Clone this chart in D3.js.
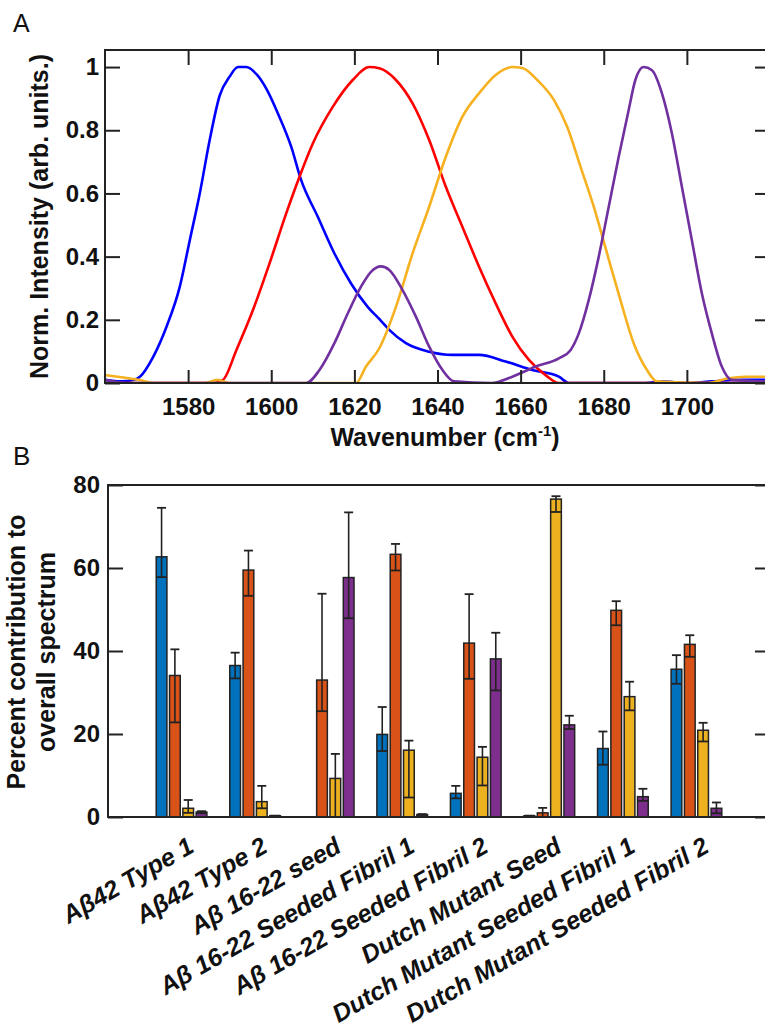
<!DOCTYPE html>
<html>
<head>
<meta charset="utf-8">
<script src="https://cdn.jsdelivr.net/npm/d3@7"></script>
<style>
  html, body { margin: 0; padding: 0; background: #fff; }
  svg { display: block; font-family: "Liberation Sans", Arial, sans-serif; }
</style>
</head>
<body>
<svg id="chart" width="765" height="1028"></svg>
<script>
// ---------------- Panel A data: [wavenumber, normalized intensity] ----------------
const blueCurve = [[1560,0.01],[1564,0.005],[1567,0.01],[1568.4,0.02],[1571.6,0.083],[1574.8,0.178],[1578,0.305],[1580.4,0.452],[1582.8,0.60],[1585.2,0.77],[1587.6,0.91],[1590,0.97],[1592,1.0],[1594,1.0],[1596.6,0.975],[1599,0.927],[1601.6,0.853],[1604.8,0.748],[1607.2,0.642],[1611.2,0.526],[1615.2,0.41],[1619.2,0.315],[1623.2,0.241],[1626.4,0.197],[1628.4,0.168],[1632.4,0.126],[1638,0.099],[1643.6,0.089],[1650,0.089],[1656.4,0.068],[1662.8,0.041],[1669.2,0.02],[1671.6,0],[1690,0],[1694,0.005],[1700,0],[1706,0.005],[1712,0.01],[1720,0.01]];
const redCurve = [[1560,0],[1586,0],[1588.4,0.01],[1591.6,0.104],[1595.6,0.231],[1599.6,0.379],[1603.6,0.537],[1606.8,0.653],[1610,0.758],[1614.8,0.874],[1619.6,0.959],[1623.6,1.0],[1626,0.996],[1630,0.959],[1634,0.885],[1638,0.769],[1642,0.621],[1646,0.494],[1650,0.368],[1654,0.252],[1658,0.147],[1662,0.073],[1666,0.025],[1669.2,0],[1720,0]];
const yellowCurve = [[1560,0.025],[1564,0.018],[1568,0.01],[1572,0],[1584,0],[1587,0.01],[1590,0],[1620.4,0],[1622.8,0.052],[1626,0.11],[1630,0.241],[1634,0.41],[1638,0.558],[1642,0.716],[1646,0.843],[1650,0.917],[1654,0.975],[1658,1.0],[1660.4,0.997],[1664,0.959],[1668,0.896],[1671.2,0.811],[1674.4,0.685],[1677.6,0.558],[1680.8,0.41],[1684,0.263],[1687.2,0.126],[1690.4,0.041],[1692.8,0.005],[1705,0],[1710,0.015],[1714,0.02],[1720,0.02]];
const purpleCurve = [[1560,0.01],[1565,0],[1608.4,0],[1611.6,0.041],[1615.2,0.126],[1618.4,0.22],[1621.6,0.305],[1624,0.352],[1626.4,0.369],[1628.4,0.358],[1631.6,0.294],[1634.8,0.21],[1638,0.115],[1641.2,0.041],[1644,0.005],[1653,0],[1658,0.02],[1663.6,0.052],[1669.2,0.078],[1672,0.104],[1674,0.157],[1676.4,0.263],[1678.8,0.4],[1681.2,0.558],[1683.6,0.716],[1686,0.864],[1687.6,0.959],[1689.6,1.0],[1691.6,0.99],[1694,0.917],[1696.4,0.79],[1698.8,0.621],[1701.2,0.452],[1703.6,0.284],[1706,0.157],[1708.4,0.052],[1710.8,0.01],[1720,0.005]];
const xTicksA = [1580,1600,1620,1640,1660,1680,1700];
const yTicksA = [0,0.2,0.4,0.6,0.8,1];

// ---------------- Panel B data ----------------
const categories = ["Aβ42 Type 1","Aβ42 Type 2","Aβ 16-22 seed","Aβ 16-22 Seeded Fibril 1","Aβ 16-22 Seeded Fibril 2","Dutch Mutant Seed","Dutch Mutant Seeded Fibril 1","Dutch Mutant Seeded Fibril 2"];
const seriesNames = ["blue","orange","yellow","purple"];
const blueVals   = [62.7, 36.5, 0,    19.9, 5.7,  0.3,  16.5, 35.6];
const blueHi     = [74.5, 39.6, 0,    26.5, 7.5,  0.3,  20.6, 39.0];
const blueLo     = [57.8, 33.4, 0,    15.9, 4.5,  0.3,  12.6, 32.1];
const orangeVals = [34.1, 59.5, 33.0, 63.3, 41.9, 1.0,  49.8, 41.6];
const orangeHi   = [40.4, 64.2, 53.8, 65.8, 53.7, 2.2,  52.0, 43.8];
const orangeLo   = [22.8, 53.3, 25.5, 59.4, 33.3, 0,    46.2, 38.6];
const yellowVals = [2.1,  3.7,  9.3,  16.1, 14.4, 76.6, 29.0, 20.9];
const yellowHi   = [4.1,  7.5,  15.2, 18.4, 16.9, 77.3, 32.6, 22.7];
const yellowLo   = [1.0,  2.1,  0,    4.7,  7.6,  73.5, 25.7, 18.2];
const purpleVals = [1.2,  0.3,  57.7, 0.6,  38.1, 22.2, 4.9,  2.1];
const purpleHi   = [1.4,  0.3,  73.4, 0.7,  44.4, 24.4, 6.8,  3.5];
const purpleLo   = [0.9,  0.3,  47.9, 0.5,  30.5, 21.2, 3.9,  0.9];
const yTicksB = [0,20,40,60,80];

// ---------------- drawing ----------------
const svg = d3.select("#chart");
const ink = "#222";
const lineColors = {blue:"#0000ff", red:"#ff0000", yellow:"#f5b120", purple:"#7030a0"};
const barColors = {blue:"#0072bd", orange:"#d95319", yellow:"#edb120", purple:"#7e2f8e"};

function styleAxis(g, fs) {
  g.select(".domain").remove();
  g.selectAll(".tick line").attr("stroke", ink).attr("stroke-width", 2);
  g.selectAll(".tick text").attr("fill", "#111").attr("font-size", fs).attr("font-weight", "bold")
    .attr("font-family", '"Liberation Sans", Arial, sans-serif');
}

// ---- Panel A ----
const A = {l:105, r:770, t:50, b:383};
const xA = d3.scaleLinear().domain([1560,1720]).range([A.l, A.r]);
const yA = d3.scaleLinear().domain([0,1.054]).range([A.b, A.t]);

svg.append("text").attr("x", 13).attr("y", 32).attr("font-size", 25).attr("fill", "#111").text("A");

svg.append("defs").append("clipPath").attr("id","clipA")
  .append("rect").attr("x", A.l).attr("y", A.t-10).attr("width", A.r-A.l).attr("height", A.b-A.t+10);

const line = d3.line().x(d => xA(d[0])).y(d => yA(d[1])).curve(d3.curveMonotoneX);
const gLines = svg.append("g").attr("clip-path","url(#clipA)");
[[blueCurve,"blue"],[redCurve,"red"],[yellowCurve,"yellow"],[purpleCurve,"purple"]].forEach(([data,c]) => {
  gLines.append("path").datum(data).attr("d", line).attr("fill","none")
    .attr("stroke", lineColors[c]).attr("stroke-width", 2.6).attr("stroke-linejoin","round");
});

svg.append("g").attr("transform", `translate(0,${A.b})`)
  .call(d3.axisBottom(xA).tickValues(xTicksA).tickSize(-13).tickPadding(15).tickFormat(d3.format("d")))
  .call(g => styleAxis(g, 24));
svg.append("g").attr("transform", `translate(0,${A.t})`)
  .call(d3.axisTop(xA).tickValues(xTicksA).tickSize(-15).tickFormat(""))
  .call(g => styleAxis(g, 24));
svg.append("g").attr("transform", `translate(${A.l},0)`)
  .call(d3.axisLeft(yA).tickValues(yTicksA).tickSize(-15).tickPadding(6).tickFormat(d => d3.format("~g")(d)))
  .call(g => styleAxis(g, 24));
svg.append("g").attr("transform", `translate(${A.r},0)`)
  .call(d3.axisRight(yA).tickValues(yTicksA).tickSize(-15).tickFormat(""))
  .call(g => styleAxis(g, 24));
svg.append("rect").attr("x", A.l).attr("y", A.t).attr("width", A.r-A.l).attr("height", A.b-A.t)
  .attr("fill","none").attr("stroke", ink).attr("stroke-width", 2);

svg.append("text").attr("transform", `translate(48,${(A.t+A.b)/2+0}) rotate(-90)`)
  .attr("text-anchor","middle").attr("font-size", 25).attr("font-weight","bold").attr("fill","#111")
  .text("Norm. Intensity (arb. units.)");
const xt = svg.append("text").attr("x", 445).attr("y", 446).attr("text-anchor","middle")
  .attr("font-size", 25).attr("font-weight","bold").attr("fill","#111");
xt.append("tspan").text("Wavenumber (cm");
xt.append("tspan").attr("font-size", 15).attr("dy", -10).text("-1");
xt.append("tspan").attr("dy", 10).text(")");

// ---- Panel B ----
const B = {l:108, r:770, t:485, b:817};
svg.append("text").attr("x", 13).attr("y", 465).attr("font-size", 26).attr("fill", "#111").text("B");

const xB = d3.scalePoint().domain(categories).range([B.l, B.r]).padding(1);
const yB = d3.scaleLinear().domain([0,80]).range([B.b, B.t]);
const inner = d3.scaleBand().domain(seriesNames).range([-26.5, 26.5]).paddingInner(0.197).paddingOuter(0.087);

const seriesData = {
  blue: [blueVals, blueHi, blueLo],
  orange: [orangeVals, orangeHi, orangeLo],
  yellow: [yellowVals, yellowHi, yellowLo],
  purple: [purpleVals, purpleHi, purpleLo]
};
const bw = inner.bandwidth();
categories.forEach((cat, i) => {
  const g = svg.append("g").attr("transform", `translate(${xB(cat)},0)`);
  seriesNames.forEach(s => {
    const [vals, hi, lo] = seriesData[s];
    const v = vals[i];
    if (v <= 0) return;
    const x0 = inner(s), xc = x0 + bw/2;
    g.append("rect").attr("x", x0).attr("y", yB(v)).attr("width", bw).attr("height", yB(0)-yB(v))
      .attr("fill", barColors[s]).attr("stroke", ink).attr("stroke-width", 1.5);
    // error bars
    g.append("line").attr("x1", xc).attr("x2", xc).attr("y1", yB(hi[i])).attr("y2", yB(lo[i]))
      .attr("stroke", ink).attr("stroke-width", 1.6);
    g.append("line").attr("x1", xc-4.5).attr("x2", xc+4.5).attr("y1", yB(hi[i])).attr("y2", yB(hi[i]))
      .attr("stroke", ink).attr("stroke-width", 1.8);
    g.append("line").attr("x1", x0).attr("x2", x0+bw).attr("y1", yB(lo[i])).attr("y2", yB(lo[i]))
      .attr("stroke", ink).attr("stroke-width", 1.8);
  });
});

svg.append("g").attr("transform", `translate(${B.l},0)`)
  .call(d3.axisLeft(yB).tickValues(yTicksB).tickSize(-15).tickPadding(8))
  .call(g => styleAxis(g, 24));
svg.append("g").attr("transform", `translate(${B.r},0)`)
  .call(d3.axisRight(yB).tickValues(yTicksB).tickSize(-15).tickFormat(""))
  .call(g => styleAxis(g, 24));
svg.append("rect").attr("x", B.l).attr("y", B.t).attr("width", B.r-B.l).attr("height", B.b-B.t)
  .attr("fill","none").attr("stroke", ink).attr("stroke-width", 2);

// category labels
categories.forEach(cat => {
  svg.append("text").attr("transform", `translate(${xB(cat)+14},851) rotate(-30)`)
    .attr("text-anchor","end").attr("font-size", 25).attr("font-weight","bold")
    .attr("font-style","italic").attr("fill","#111")
    .text(cat);
});

const yc = (B.t + B.b)/2 + 1;
svg.append("text").attr("transform", `translate(25,${yc}) rotate(-90)`)
  .attr("text-anchor","middle").attr("font-size", 25).attr("font-weight","bold").attr("fill","#111")
  .text("Percent contribution to");
svg.append("text").attr("transform", `translate(55,${yc}) rotate(-90)`)
  .attr("text-anchor","middle").attr("font-size", 25).attr("font-weight","bold").attr("fill","#111")
  .text("overall spectrum");
</script>
</body>
</html>
